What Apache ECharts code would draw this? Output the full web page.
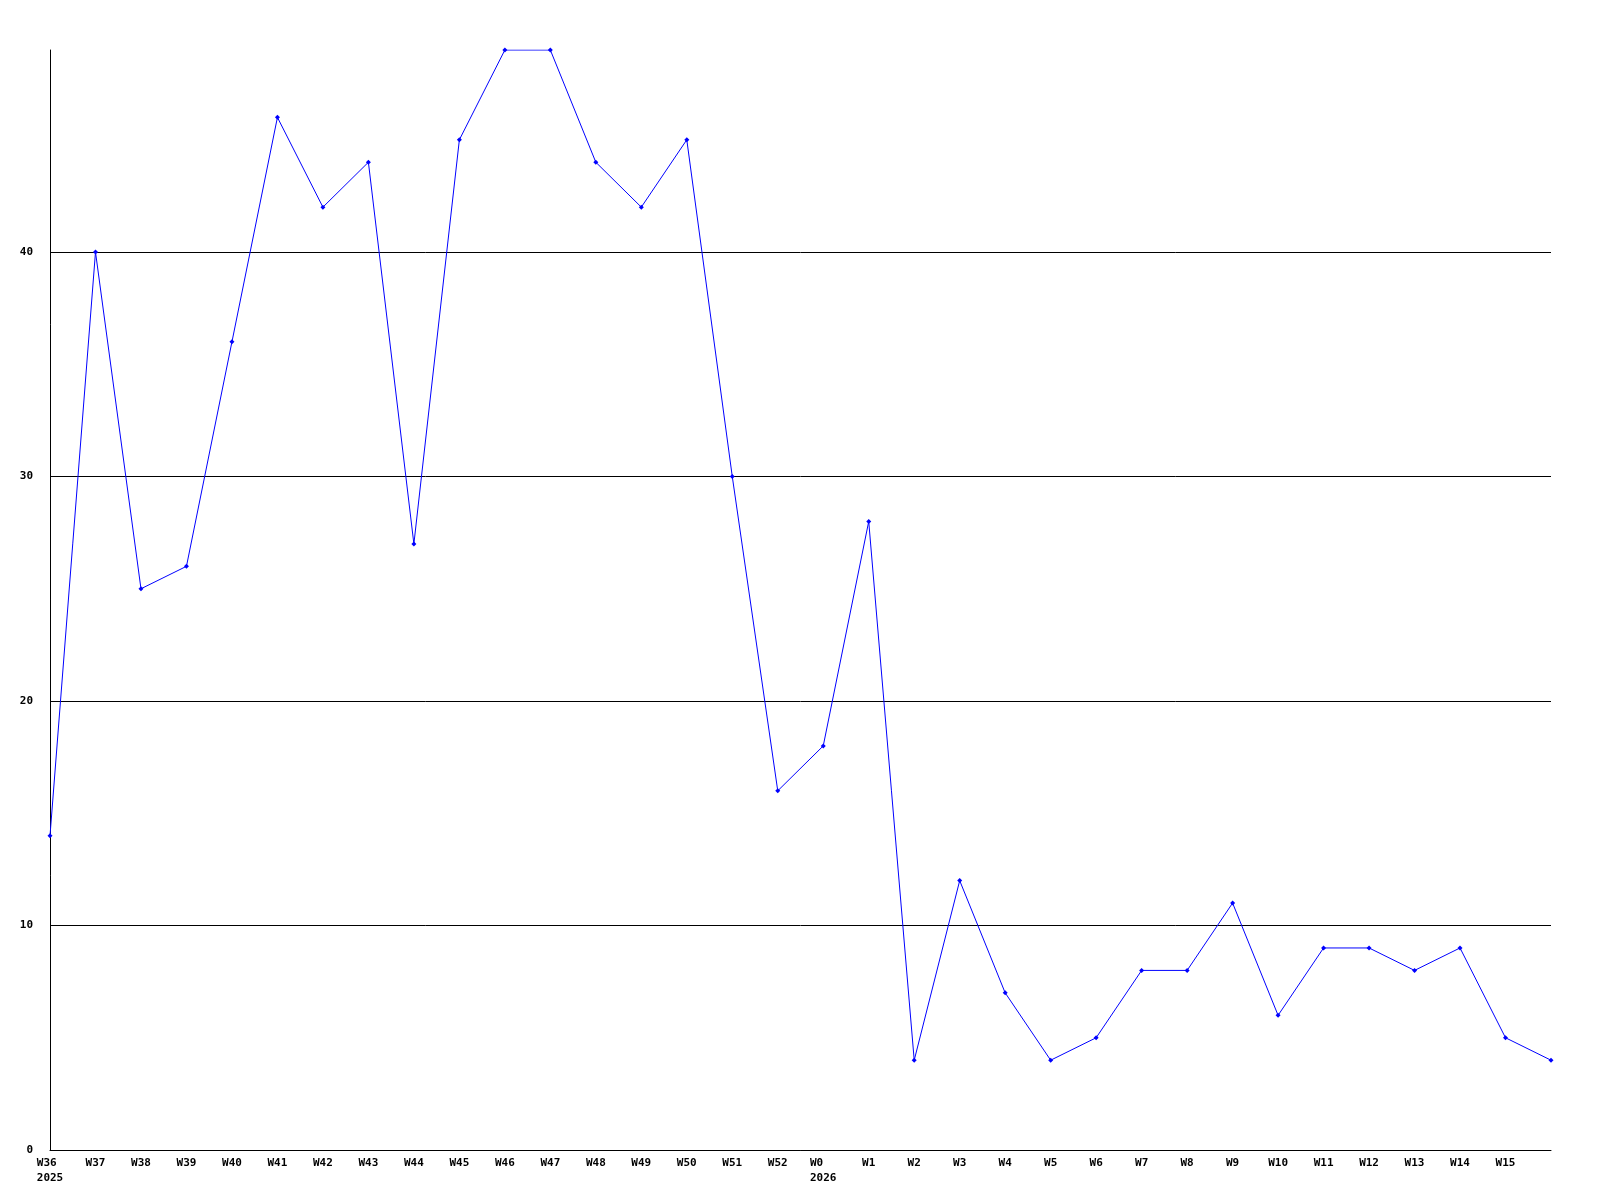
<!DOCTYPE html>
<html>
<head>
<meta charset="utf-8">
<script src="https://cdn.jsdelivr.net/npm/echarts@6/dist/echarts.min.js"></script>
<style>html,body{margin:0;padding:0;background:#fff}#c{width:1600px;height:1200px}</style>
</head>
<body>
<div id="c"></div>
<script>
const weeks = ['W36','W37','W38','W39','W40','W41','W42','W43','W44','W45','W46','W47','W48','W49','W50','W51','W52','W0','W1','W2','W3','W4','W5','W6','W7','W8','W9','W10','W11','W12','W13','W14','W15','W16'];
const yearMarks = {0: '2025', 17: '2026'};
const values = [14,40,25,26,36,46,42,44,27,45,49,49,44,42,45,30,16,18,28,4,12,7,4,5,8,8,11,6,9,9,8,9,5,4];
const yTickInterval = 10;

const chart = echarts.init(document.getElementById('c'), null, {renderer: 'canvas'});
chart.setOption({
  animation: false,
  backgroundColor: '#fff',
  grid: {left: 50, right: 49, top: 50, bottom: 50, containLabel: false},
  xAxis: {
    type: 'category',
    data: weeks,
    boundaryGap: false,
    axisLine: {lineStyle: {color: '#000', width: 1}},
    axisTick: {show: false},
    axisLabel: {
      interval: function (idx) { return idx < weeks.length - 1; },
      color: '#000',
      fontFamily: 'DejaVu Sans Mono',
      fontWeight: 'bold',
      fontSize: 11,
      lineHeight: 15,
      margin: 6,
      formatter: function (v, idx) {
        if (yearMarks[idx]) {
          let w = v;
          while (w.length < yearMarks[idx].length) w += ' ';
          return w + '\n' + yearMarks[idx];
        }
        return v;
      }
    },
    splitLine: {show: false}
  },
  yAxis: {
    type: 'value',
    min: 0,
    max: 'dataMax',
    interval: yTickInterval,
    axisLine: {show: true, lineStyle: {color: '#000', width: 1}},
    axisTick: {show: false},
    axisLabel: {
      color: '#000',
      fontFamily: 'DejaVu Sans Mono',
      fontWeight: 'bold',
      fontSize: 11,
      margin: 17,
      showMaxLabel: false
    },
    splitLine: {show: true, lineStyle: {color: ['#000','#000','#000','#000','#000','rgba(0,0,0,0)'], width: 1}}
  },
  series: [{
    type: 'line',
    data: values,
    symbol: 'diamond',
    symbolSize: 5,
    showSymbol: true,
    itemStyle: {color: '#0000ff'},
    lineStyle: {color: '#0000ff', width: 1}
  }]
});
</script>
</body>
</html>
